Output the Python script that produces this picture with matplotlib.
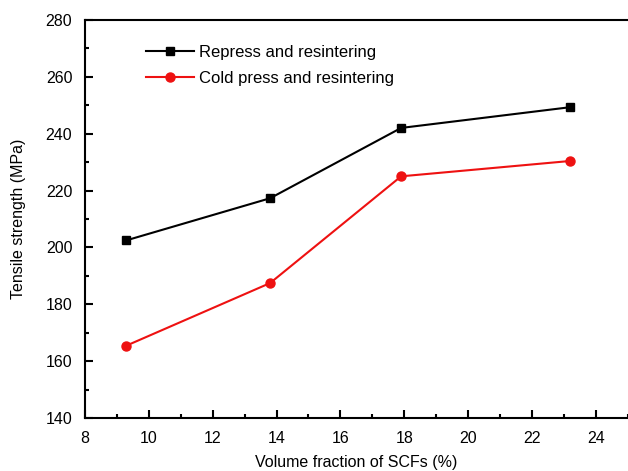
import matplotlib
matplotlib.use("Agg")
import matplotlib.pyplot as plt
from matplotlib.ticker import MultipleLocator

plt.rcParams['font.family'] = ['Liberation Sans', 'DejaVu Sans']

x_vals = [9.3, 13.8, 17.9, 23.2]
repress = [202.5, 217.3, 242.0, 249.3]
cold = [165.5, 187.5, 225.0, 230.4]
labels = ["Repress and resintering", "Cold press and resintering"]

fig = plt.figure(figsize=(6.28, 4.71), dpi=100)
ax = fig.add_axes([0.135, 0.112, 0.865, 0.846])

ax.plot(x_vals, repress, color='black', marker='s', markersize=5.5, lw=1.5, label=labels[0])
ax.plot(x_vals, cold, color='#ee1111', marker='o', markersize=6.5, lw=1.5, label=labels[1])

ax.set_xlim(8, 25)
ax.set_ylim(140, 280)
ax.xaxis.set_major_locator(MultipleLocator(2))
ax.xaxis.set_minor_locator(MultipleLocator(1))
ax.yaxis.set_major_locator(MultipleLocator(20))
ax.yaxis.set_minor_locator(MultipleLocator(10))
ax.tick_params(which='both', direction='in', labelsize=11.5, width=1.5)
ax.tick_params(which='major', length=6)
ax.tick_params(which='minor', length=3)
ax.tick_params(axis='x', pad=9)
ax.tick_params(axis='y', pad=9)
ax.spines['right'].set_visible(False)
for s in ['left', 'bottom', 'top']:
    ax.spines[s].set_linewidth(1.5)

ax.set_xlabel("Volume fraction of SCFs (%)", fontsize=11.5, labelpad=7)
ax.set_ylabel("Tensile strength (MPa)", fontsize=11.5, labelpad=14)

ax.legend(loc='upper left', bbox_to_anchor=(0.085, 0.975), frameon=False, fontsize=12,
          handlelength=2.9, handletextpad=0.3, labelspacing=0.68)

fig.savefig("out.png", dpi=100)
